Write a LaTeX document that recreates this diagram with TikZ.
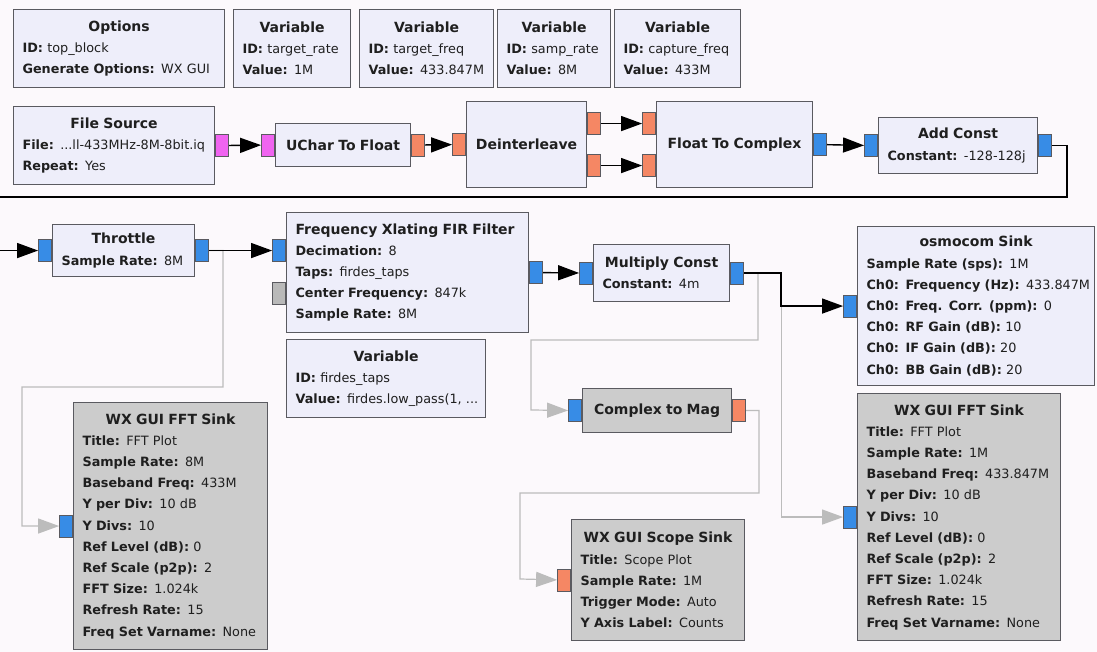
\documentclass[tikz,border=0pt]{standalone}
\usepackage{fontspec}
\setmainfont{DejaVu Sans}
\usetikzlibrary{arrows.meta}

\definecolor{canvas}{RGB}{252,249,252}
\definecolor{blkfill}{RGB}{238,238,250}
\definecolor{offfill}{RGB}{204,204,204}
\definecolor{edge}{RGB}{90,90,96}
\definecolor{pmag}{RGB}{240,100,240}
\definecolor{porg}{RGB}{245,135,100}
\definecolor{pblu}{RGB}{55,140,230}
\definecolor{pgry}{RGB}{185,185,185}
\definecolor{dimwire}{RGB}{188,188,188}

% block title and one "key: value" row
\newcommand\ttlfont{\fontsize{14}{21.2}\selectfont\bfseries}
\newcommand\ttl[1]{\makebox[\linewidth]{\ttlfont #1}}
\newcommand\kv[2]{\mbox{\textbf{#1:} #2}}

\begin{document}
\begin{tikzpicture}[x=1pt, y=-1pt,
    blk/.style={draw=edge, fill=blkfill, line width=1.1pt, anchor=north west,
                inner xsep=9pt, inner ysep=0pt, align=left, text=black!88,
                font=\fontsize{12.8}{21.2}\selectfont},
    offblk/.style={blk, fill=offfill},
    prt/.style={draw=edge, line width=0.9pt, minimum width=13pt, minimum height=22pt, inner sep=0pt},
    wire/.style={line width=1.4pt, -{Triangle[length=21pt, width=15pt]}},
    offwire/.style={wire, draw=dimwire, line width=1.2pt},
]
\useasboundingbox[fill=canvas] (0,0) rectangle (1097,652);

% variables and options
\node[blk, text width=193pt, minimum height=78pt] (opts) at (13,9)
    {\ttl{Options}\\ \kv{ID}{top\_block}\\ \kv{Generate Options}{WX GUI}};
\node[blk, text width=99pt, minimum height=78pt] (vrate) at (233,9)
    {\ttl{Variable}\\ \kv{ID}{target\_rate}\\ \kv{Value}{1M}};
\node[blk, text width=116pt, minimum height=78pt] (vfreq) at (359,9)
    {\ttl{Variable}\\ \kv{ID}{target\_freq}\\ \kv{Value}{433.847M}};
\node[blk, text width=95pt, minimum height=78pt] (vsamp) at (497,9)
    {\ttl{Variable}\\ \kv{ID}{samp\_rate}\\ \kv{Value}{8M}};
\node[blk, text width=108pt, minimum height=78pt] (vcap) at (614,9)
    {\ttl{Variable}\\ \kv{ID}{capture\_freq}\\ \kv{Value}{433M}};

% source chain
\node[blk, text width=183pt, minimum height=78pt] (fsrc) at (13,106)
    {\ttl{File Source}\\ \kv{File}{...ll-433MHz-8M-8bit.iq}\\ \kv{Repeat}{Yes}};
\node[blk, text width=117pt, minimum height=43pt] (u2f) at (275,123) {\ttl{UChar To Float}};
\node[blk, text width=102pt, minimum height=86pt] (dil) at (466,101) {\ttl{Deinterleave}};
\node[blk, text width=138pt, minimum height=86pt] (f2c) at (656,101) {\ttl{Float To Complex}};
\node[blk, text width=141pt, minimum height=56pt] (addc) at (878,117)
    {\ttl{Add Const}\\ \kv{Constant}{-128-128j}};

% processing and sinks
\node[blk, text width=124pt, minimum height=52pt] (thr) at (52,224)
    {\ttl{Throttle}\\ \kv{Sample Rate}{8M}};
\node[blk, text width=224pt, minimum height=120pt] (fx) at (286,212)
    {{\ttlfont Frequency Xlating FIR Filter}\\ \kv{Decimation}{8}\\ \kv{Taps}{firdes\_taps}\\
     \kv{Center Frequency}{847k}\\ \kv{Sample Rate}{8M}};
\node[blk, text width=181pt, minimum height=78pt] (vtaps) at (286,339)
    {\ttl{Variable}\\ \kv{ID}{firdes\_taps}\\ \kv{Value}{firdes.low\_pass(1, ...}};
\node[blk, text width=118pt, minimum height=57pt] (mc) at (593,244)
    {\ttl{Multiply Const}\\ \kv{Constant}{4m}};
\node[blk, text width=219pt, minimum height=159pt] (osmo) at (857,226)
    {\ttl{osmocom Sink}\\ \kv{Sample Rate (sps)}{1M}\\ \kv{Ch0: Frequency (Hz)}{433.847M}\\
     \kv{Ch0: Freq. Corr. (ppm)}{0}\\ \kv{Ch0: RF Gain (dB)}{10}\\
     \kv{Ch0: IF Gain (dB)}{20}\\ \kv{Ch0: BB Gain (dB)}{20}};
\node[offblk, text width=131pt, minimum height=44pt] (c2m) at (582,388) {\ttl{Complex to Mag}};
\node[offblk, text width=176pt, minimum height=247pt] (lfft) at (73,402)
    {\ttl{WX GUI FFT Sink}\\ \kv{Title}{FFT Plot}\\ \kv{Sample Rate}{8M}\\
     \kv{Baseband Freq}{433M}\\ \kv{Y per Div}{10 dB}\\ \kv{Y Divs}{10}\\
     \kv{Ref Level (dB)}{0}\\ \kv{Ref Scale (p2p)}{2}\\ \kv{FFT Size}{1.024k}\\
     \kv{Refresh Rate}{15}\\ \kv{Freq Set Varname}{None}};
\node[offblk, text width=185pt, minimum height=247pt] (rfft) at (857,393)
    {\ttl{WX GUI FFT Sink}\\ \kv{Title}{FFT Plot}\\ \kv{Sample Rate}{1M}\\
     \kv{Baseband Freq}{433.847M}\\ \kv{Y per Div}{10 dB}\\ \kv{Y Divs}{10}\\
     \kv{Ref Level (dB)}{0}\\ \kv{Ref Scale (p2p)}{2}\\ \kv{FFT Size}{1.024k}\\
     \kv{Refresh Rate}{15}\\ \kv{Freq Set Varname}{None}};
\node[offblk, text width=155pt, minimum height=121pt] (scope) at (571,519)
    {\ttl{WX GUI Scope Sink}\\ \kv{Title}{Scope Plot}\\ \kv{Sample Rate}{1M}\\
     \kv{Trigger Mode}{Auto}\\ \kv{Y Axis Label}{Counts}};

% ports
\node[prt, fill=pmag, anchor=west] (fsrcO) at (fsrc.east) {};
\node[prt, fill=pmag, anchor=east] (u2fI) at (u2f.west) {};
\node[prt, fill=porg, anchor=west] (u2fO) at (u2f.east) {};
\node[prt, fill=porg, anchor=east] (dilI) at (dil.west) {};
\node[prt, fill=porg, anchor=west] (dilO0) at ([yshift=21pt]dil.east) {};
\node[prt, fill=porg, anchor=west] (dilO1) at ([yshift=-21pt]dil.east) {};
\node[prt, fill=porg, anchor=east] (f2cI0) at ([yshift=21pt]f2c.west) {};
\node[prt, fill=porg, anchor=east] (f2cI1) at ([yshift=-21pt]f2c.west) {};
\node[prt, fill=pblu, anchor=west] (f2cO) at (f2c.east) {};
\node[prt, fill=pblu, anchor=east] (acI) at (addc.west) {};
\node[prt, fill=pblu, anchor=west] (acO) at (addc.east) {};
\node[prt, fill=pblu, anchor=east] (thrI) at (thr.west) {};
\node[prt, fill=pblu, anchor=west] (thrO) at (thr.east) {};
\node[prt, fill=pblu, anchor=east] (fxI) at ([yshift=22pt]fx.west) {};
\node[prt, fill=pgry, anchor=east] (fxT) at ([yshift=-21pt]fx.west) {};
\node[prt, fill=pblu, anchor=west] (fxO) at (fx.east) {};
\node[prt, fill=pblu, anchor=east] (mcI) at (mc.west) {};
\node[prt, fill=pblu, anchor=west] (mcO) at (mc.east) {};
\node[prt, fill=pblu, anchor=east] (osI) at (osmo.west) {};
\node[prt, fill=pblu, anchor=east] (c2mI) at (c2m.west) {};
\node[prt, fill=porg, anchor=west] (c2mO) at (c2m.east) {};
\node[prt, fill=pblu, anchor=east] (lfftI) at (lfft.west) {};
\node[prt, fill=pblu, anchor=east] (rfftI) at (rfft.west) {};
\node[prt, fill=porg, anchor=east] (scI) at (scope.west) {};

% connections to disabled sinks
\draw[offwire] (thrO.east) -| (223,387) -| (22,526) -- (lfftI);
\draw[offwire] (mcO.east) -| (758,340) -| (531,410) -- (c2mI);
\draw[offwire] (mcO.east) -| ([xshift=-62pt]rfftI.west) -- (rfftI);
\draw[offwire] (c2mO.east) -| (759,493) -| (520,579) -- (scI);

% main flow
\draw[wire] (fsrcO) -- (u2fI);
\draw[wire] (u2fO) -- (dilI);
\draw[wire] (dilO0) -- (f2cI0);
\draw[wire] (dilO1) -- (f2cI1);
\draw[wire] (f2cO) -- (acI);
\draw[wire] (acO.east) -- ++(15,0) |- (-12,197) |- (thrI.west);
\draw[wire] (thrO) -- (fxI);
\draw[wire] (fxO) -- (mcI);
\draw[wire] (mcO.east) -| ([xshift=-62pt]osI.west) -- (osI);
\end{tikzpicture}
\end{document}
